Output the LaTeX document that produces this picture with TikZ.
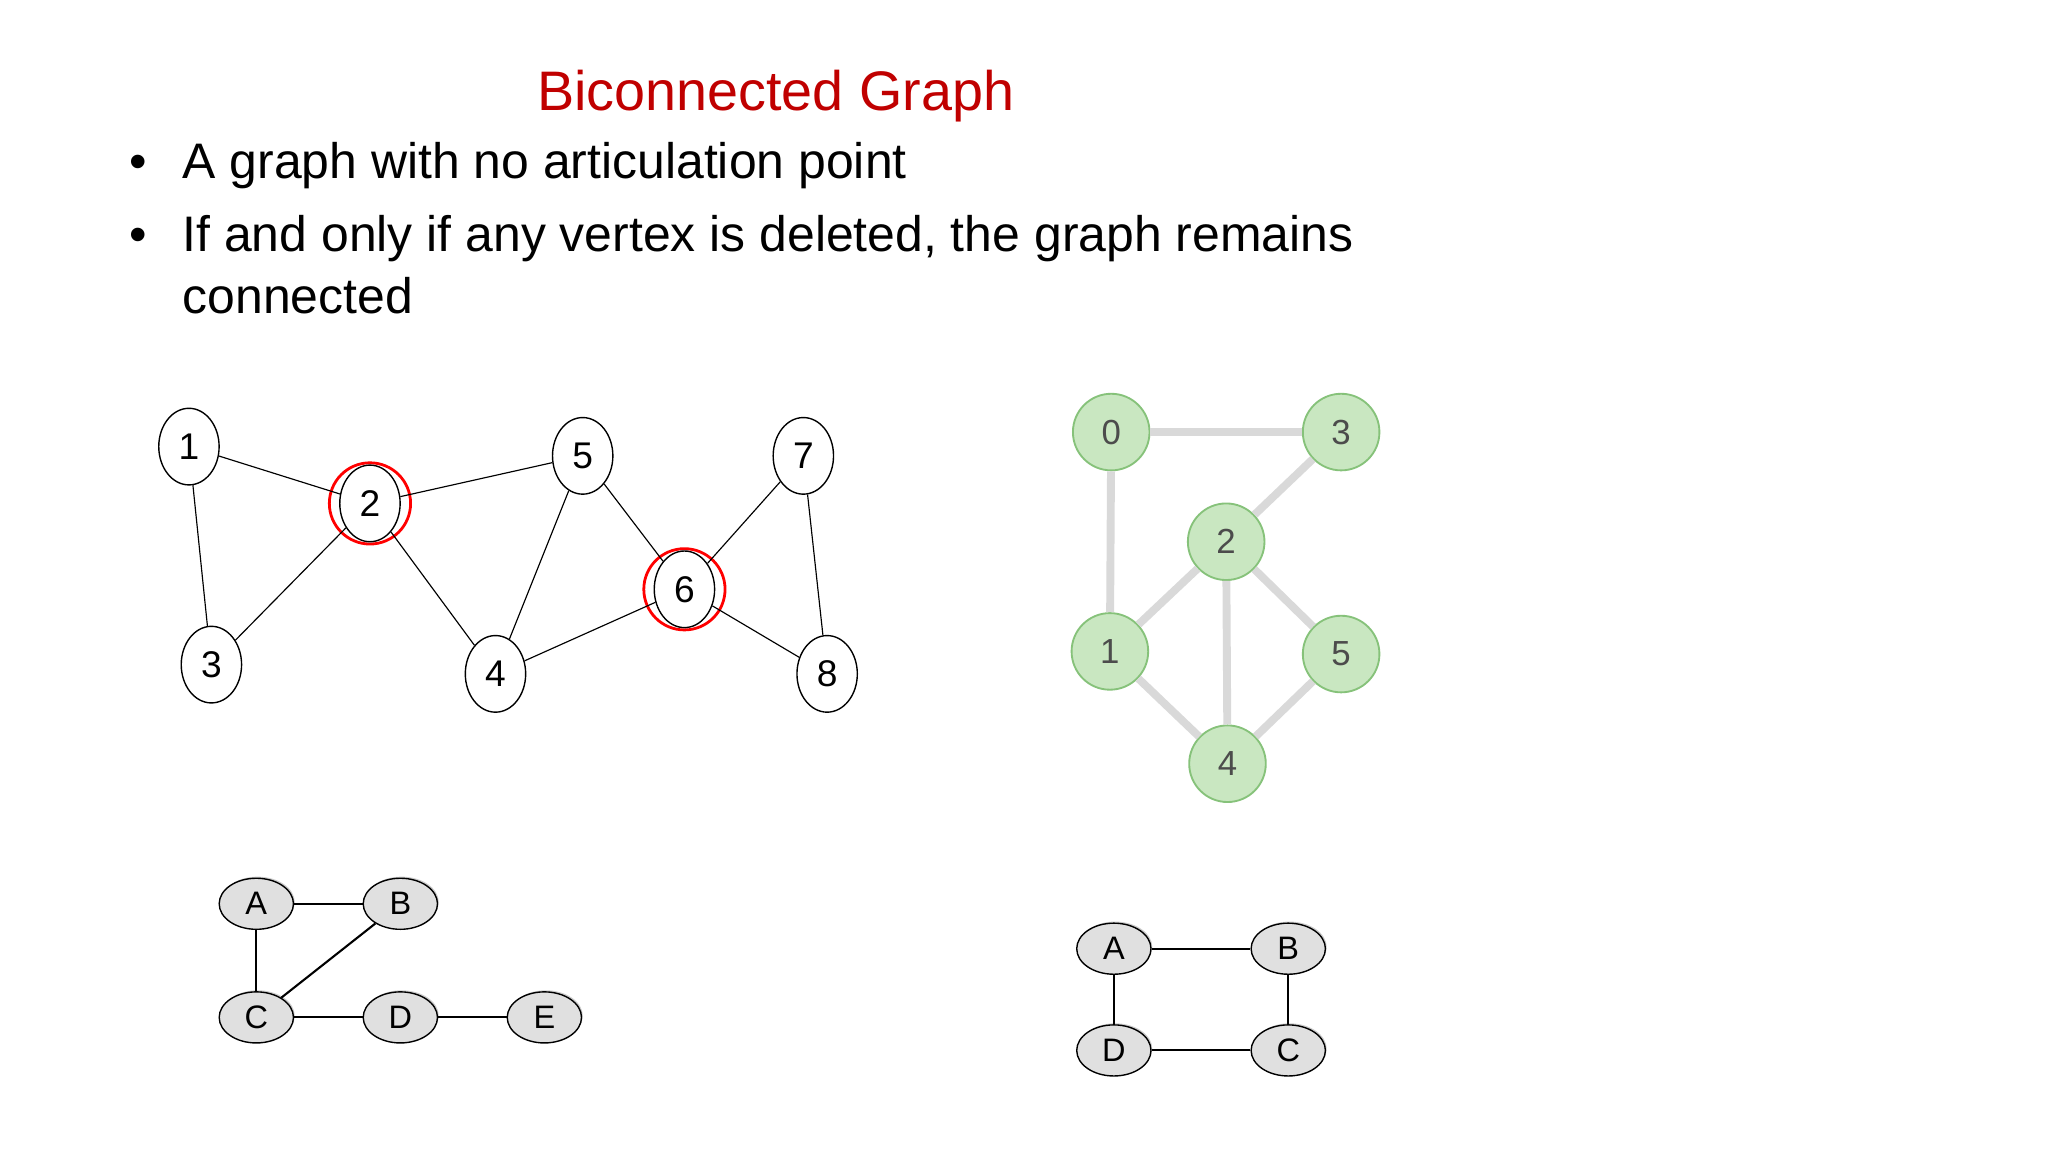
\documentclass[tikz,border=0pt]{standalone}
\usepackage{fontspec}
\setmainfont{Liberation Sans}
\usetikzlibrary{shadows,shapes.geometric}
\definecolor{titlered}{HTML}{C00000}
\definecolor{gfill}{HTML}{C9E7C1}
\definecolor{gline}{HTML}{86C27A}
\tikzset{
  ov/.style={draw,fill=white,ellipse,minimum width=26pt,minimum height=33pt,inner sep=0,font=\fontsize{16}{16}\selectfont, line width=0.6},
  ring/.style={draw=red,line width=1.2,circle,minimum size=35pt,inner sep=0},
  gn/.style={circle,draw=gline,fill=gfill,line width=0.8,minimum size=33pt,inner sep=0,text=black!70,font=\fontsize{15}{15}\selectfont},
  ge/.style={draw=black!15,line width=3.4},
  sn/.style={ellipse,draw,fill=black!12,minimum width=32pt,minimum height=22pt,inner sep=0,line width=0.6,font=\fontsize{14}{14}\selectfont,drop shadow={shadow xshift=1,shadow yshift=-1.2,fill=black!40}},
  bul/.style={anchor=base west,font=\fontsize{21.5}{21.5}\selectfont}
}
\begin{document}
\begin{tikzpicture}[x=0.02cm,y=-0.02cm]
\useasboundingbox (0,0) rectangle (1550,872);
\node[text=titlered,font=\fontsize{24}{24}\selectfont,anchor=base] (t) at (587,84) {Biconnected Graph};
\node[bul] (b1) at (92,135) {•};
\node[bul] (l1) at (132,135) {A graph with no articulation point};
\node[bul] (b2) at (92,190) {•};
\node[bul] (l2) at (132,190) {If and only if any vertex is deleted, the graph remains};
\node[bul] (l3) at (132,237) {connected};
% graph 1
\node[ring] (r2) at (280,381) {};
\node[ring] (r6) at (518,446) {};
\node[ov] (n1) at (143,338) {1};
\node[ov] (n2) at (280,381) {2};
\node[ov] (n3) at (160,503) {3};
\node[ov] (n4) at (375,510) {4};
\node[ov] (n5) at (441,345) {5};
\node[ov] (n6) at (518,446) {6};
\node[ov] (n7) at (608,345) {7};
\node[ov] (n8) at (626,510) {8};
\foreach \a/\b in {n1/n2,n1/n3,n2/n3,n2/n5,n2/n4,n5/n4,n5/n6,n4/n6,n6/n7,n6/n8,n7/n8}
  \draw[line width=0.5] (\a) -- (\b);
% graph 2
\node[gn] (g0) at (841,327) {0};
\node[gn] (g3) at (1015,327) {3};
\node[gn] (g2) at (928,410) {2};
\node[gn] (g1) at (840,493) {1};
\node[gn] (g5) at (1015,495) {5};
\node[gn] (g4) at (929,578) {4};
\foreach \a/\b in {g0/g3,g0/g1,g3/g2,g2/g1,g2/g4,g2/g5,g1/g4,g5/g4}
  \draw[ge] (\a) -- (\b);
% graph 3
\node[sn] (a3) at (194,684) {A};
\node[sn] (b3) at (303,684) {B};
\node[sn] (c3) at (194,770) {C};
\node[sn] (d3) at (303,770) {D};
\node[sn] (e3) at (412,770) {E};
\foreach \a/\b in {a3/b3,a3/c3,b3/c3,c3/d3,d3/e3}
  \draw[line width=0.9] (\a) -- (\b);
% graph 4
\node[sn] (a4) at (843,718) {A};
\node[sn] (b4) at (975,718) {B};
\node[sn] (d4) at (843,795) {D};
\node[sn] (c4) at (975,795) {C};
\foreach \a/\b in {a4/b4,a4/d4,b4/c4,d4/c4}
  \draw[line width=0.9] (\a) -- (\b);
\end{tikzpicture}
\end{document}
